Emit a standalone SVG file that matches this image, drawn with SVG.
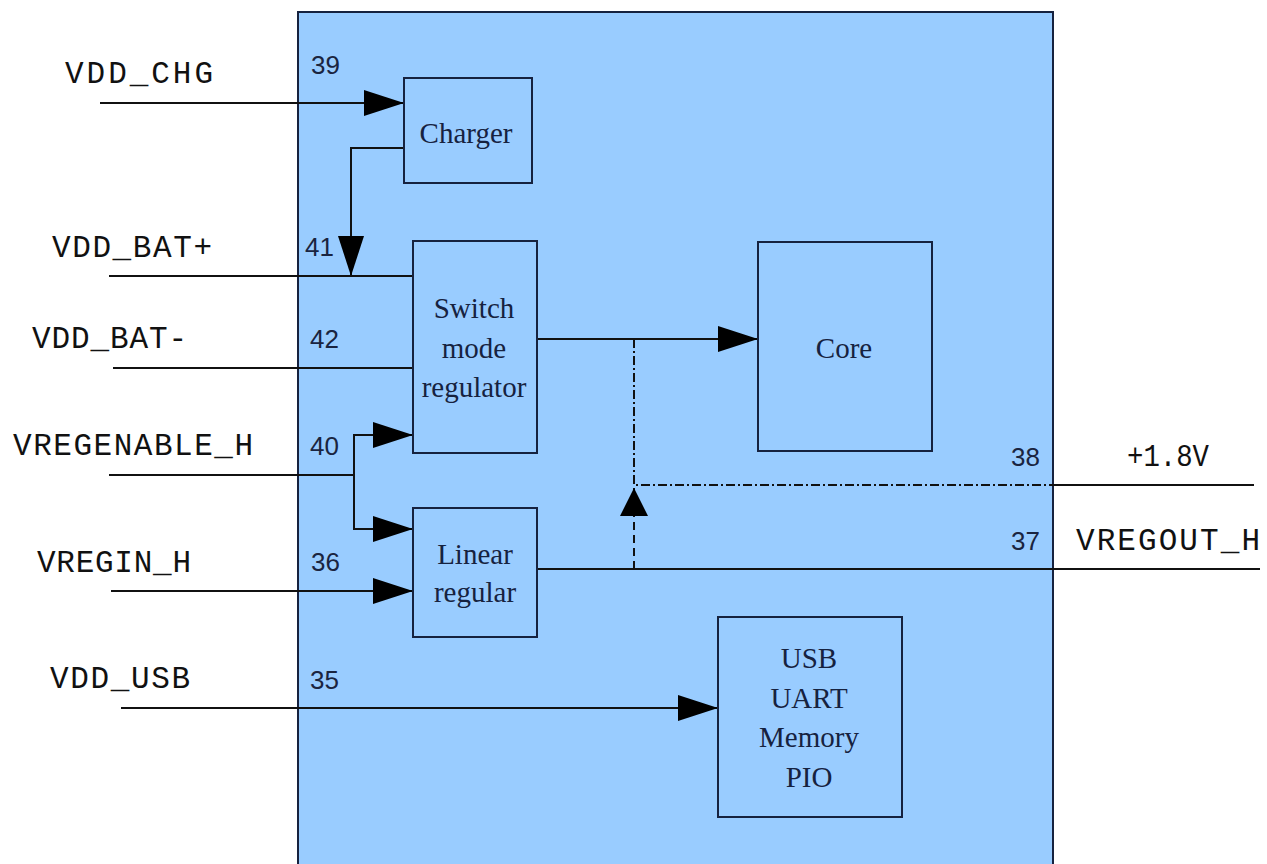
<svg xmlns="http://www.w3.org/2000/svg" width="1267" height="864" viewBox="0 0 1267 864">
<style>
.lbl{font-family:"Liberation Mono","DejaVu Sans Mono",monospace;font-size:31px;fill:#111}
.pin{font-family:"Liberation Sans",Arial,sans-serif;font-size:26px;fill:#1a2440}
.box{fill:#99ccff;stroke:#16223f;stroke-width:2}
.btxt{font-family:"Liberation Serif","Times New Roman",serif;font-size:29px;fill:#16223f;text-anchor:middle}
.w{fill:none;stroke:#111;stroke-width:2}
.dd{fill:none;stroke:#111;stroke-width:2;stroke-dasharray:9 3 2 3}
.da{fill:none;stroke:#111;stroke-width:2;stroke-dasharray:8 5}
</style>
<defs>
<marker id="arr" markerUnits="userSpaceOnUse" markerWidth="40" markerHeight="26" viewBox="0 0 40 26" refX="40" refY="13" orient="auto">
<path d="M0,0 L40,13 L0,26 Z" fill="#000" stroke="none"/>
</marker>
<marker id="arrS" markerUnits="userSpaceOnUse" markerWidth="28" markerHeight="28" viewBox="0 0 28 28" refX="28" refY="14" orient="auto">
<path d="M0,0 L28,14 L0,28 Z" fill="#000" stroke="none"/>
</marker>
</defs>
<rect width="1267" height="864" fill="#fff"/>
<g id="chip">
<rect x="298" y="12" width="755" height="870" class="box"/>
</g>
<g id="pins">
<text class="pin" x="311" y="74">39</text>
<text class="pin" x="305" y="256">41</text>
<text class="pin" x="310" y="348">42</text>
<text class="pin" x="310" y="455">40</text>
<text class="pin" x="311" y="571">36</text>
<text class="pin" x="310" y="689">35</text>
<text class="pin" x="1011" y="466">38</text>
<text class="pin" x="1011" y="550">37</text>
</g>
<g id="labels">
<text class="lbl" x="65" y="83" textLength="148" lengthAdjust="spacing">VDD_CHG</text>
<text class="lbl" x="52" y="257" textLength="160" lengthAdjust="spacing">VDD_BAT+</text>
<text class="lbl" x="32" y="348" textLength="155" lengthAdjust="spacing">VDD_BAT-</text>
<text class="lbl" x="13" y="455" textLength="240" lengthAdjust="spacing">VREGENABLE_H</text>
<text class="lbl" x="37" y="572" textLength="154" lengthAdjust="spacing">VREGIN_H</text>
<text class="lbl" x="50" y="688" textLength="140" lengthAdjust="spacing">VDD_USB</text>
<text class="lbl" x="1127" y="466" textLength="82" lengthAdjust="spacingAndGlyphs">+1.8V</text>
<text class="lbl" x="1076" y="550" textLength="184" lengthAdjust="spacing">VREGOUT_H</text>
</g>
<g id="connectors">
<path class="w" d="M100,103 H404" marker-end="url(#arr)"/>
<path class="w" d="M404,148 H351 V276" marker-end="url(#arr)"/>
<path class="w" d="M109,276 H413"/>
<path class="w" d="M113,368 H413"/>
<path class="w" d="M109,475 H354"/>
<path class="w" d="M354,475 V435 H413" marker-end="url(#arr)"/>
<path class="w" d="M354,475 V529 H413" marker-end="url(#arr)"/>
<path class="w" d="M111,591 H413" marker-end="url(#arr)"/>
<path class="w" d="M121,708 H718" marker-end="url(#arr)"/>
<path class="w" d="M537,339 H758" marker-end="url(#arr)"/>
<path class="dd" d="M634,339 V485 H1053"/>
<path class="w" d="M1053,485 H1254"/>
<path class="w" d="M537,569 H1260"/>
<path class="da" d="M634,569 V488" marker-end="url(#arrS)"/>
</g>
<g id="charger">
<rect x="404" y="78" width="128" height="105" class="box"/>
<text class="btxt" x="466" y="143">Charger</text>
</g>
<g id="switch">
<rect x="413" y="241" width="124" height="212" class="box"/>
<text class="btxt" x="474" y="318">Switch</text>
<text class="btxt" x="474" y="358">mode</text>
<text class="btxt" x="474" y="397">regulator</text>
</g>
<g id="linear">
<rect x="413" y="508" width="124" height="129" class="box"/>
<text class="btxt" x="475" y="564">Linear</text>
<text class="btxt" x="475" y="602">regular</text>
</g>
<g id="core">
<rect x="758" y="242" width="174" height="209" class="box"/>
<text class="btxt" x="844" y="358">Core</text>
</g>
<g id="usb">
<rect x="718" y="617" width="184" height="200" class="box"/>
<text class="btxt" x="809" y="668">USB</text>
<text class="btxt" x="809" y="708">UART</text>
<text class="btxt" x="809" y="747">Memory</text>
<text class="btxt" x="809" y="787">PIO</text>
</g>
</svg>
